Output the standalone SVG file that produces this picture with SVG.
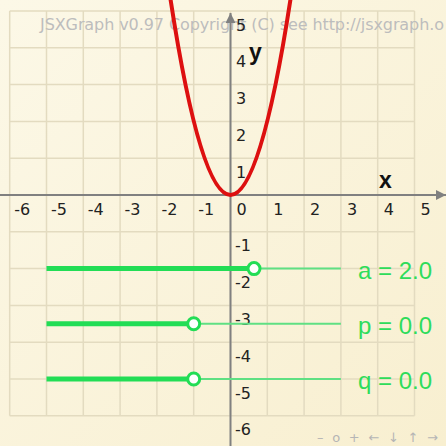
<svg xmlns="http://www.w3.org/2000/svg" width="446" height="446" viewBox="0 0 446 446">
<defs>
<linearGradient id="bg" x1="0" y1="0" x2="1" y2="1">
<stop offset="0" stop-color="#fcf8e7"/>
<stop offset="1" stop-color="#f8efd0"/>
</linearGradient>
<marker id="arr" viewBox="0 0 10 10" refX="10" refY="5" markerWidth="5" markerHeight="5" orient="auto" markerUnits="strokeWidth">
<path d="M0,0 L10,5 L0,10 z" fill="#808080"/>
</marker>
<style>
.grid{stroke:#e3dbc0;stroke-width:1.5;fill:none}
.axis{stroke:#808080;stroke-width:2;fill:none}
.tick{font-family:"DejaVu Sans",sans-serif;font-size:16px;fill:#222}
.axlab{font-family:"Liberation Sans",sans-serif;font-size:23px;font-weight:bold;fill:#111}
.curve{stroke:#dd1010;stroke-width:4;fill:none;stroke-linecap:round}
.track{stroke:#5fe083;stroke-width:2}
.fill{stroke:#22dd55;stroke-width:5}
.knob{fill:#ffffff;stroke:#22dd55;stroke-width:3}
.slab{font-family:"Liberation Sans",sans-serif;font-size:24px;fill:#2edc5a}
.wm{font-family:"DejaVu Sans",sans-serif;font-size:16px;fill:#bdbdbd}
.nav{font-family:"DejaVu Sans",sans-serif;font-size:13px;fill:#b5b5b5}
</style>
</defs>
<rect id="background" x="0" y="0" width="446" height="446" fill="url(#bg)"/>
<g id="grid" class="grid">
<path d="M9.7,11V415.8M46.5,11V415.8M83.3,11V415.8M120.1,11V415.8M156.9,11V415.8M193.7,11V415.8M230.5,11V415.8M267.3,11V415.8M304.1,11V415.8M340.9,11V415.8M377.7,11V415.8M414.5,11V415.8"/>
<path d="M9.7,11H414.5M9.7,47.8H414.5M9.7,84.6H414.5M9.7,121.4H414.5M9.7,158.2H414.5M9.7,195H414.5M9.7,231.8H414.5M9.7,268.6H414.5M9.7,305.4H414.5M9.7,342.2H414.5M9.7,379H414.5M9.7,415.8H414.5"/>
</g>
<text id="watermark" class="wm" x="40" y="30" textLength="404" lengthAdjust="spacing">JSXGraph v0.97 Copyright (C) see http://jsxgraph.o</text>
<g id="axes">
<line id="x-axis" class="axis" x1="0" y1="195" x2="446" y2="195" marker-end="url(#arr)"/>
<line id="y-axis" class="axis" x1="230.5" y1="446" x2="230.5" y2="13" marker-end="url(#arr)"/>
</g>
<g id="x-tick-labels" class="tick">
<text x="14.2" y="215">-6</text>
<text x="51" y="215">-5</text>
<text x="87.8" y="215">-4</text>
<text x="124.6" y="215">-3</text>
<text x="161.4" y="215">-2</text>
<text x="198.2" y="215">-1</text>
<text x="236.5" y="215">0</text>
<text x="273.3" y="215">1</text>
<text x="310.1" y="215">2</text>
<text x="346.9" y="215">3</text>
<text x="383.7" y="215">4</text>
<text x="420.5" y="215">5</text>
</g>
<g id="y-tick-labels" class="tick">
<text x="236" y="30.5">5</text>
<text x="236" y="67.3">4</text>
<text x="236" y="104.1">3</text>
<text x="236" y="140.9">2</text>
<text x="236" y="177.7">1</text>
<text x="235" y="251.3">-1</text>
<text x="235" y="288.1">-2</text>
<text x="235" y="324.9">-3</text>
<text x="235" y="361.7">-4</text>
<text x="235" y="398.5">-5</text>
<text x="235" y="435.3">-6</text>
</g>
<g id="axis-names">
<text class="axlab" x="379" y="188">x</text>
<text class="axlab" x="249" y="60">y</text>
</g>
<path id="parabola" class="curve" d="M169.8,-5.4 Q230.5,395.4 291.2,-5.4"/>
<g id="slider-a">
<line class="track" x1="254" y1="268.6" x2="340.9" y2="268.6"/>
<line class="fill" x1="46.5" y1="268.6" x2="254" y2="268.6"/>
<circle class="knob" cx="254" cy="268.6" r="6"/>
<text class="slab" x="358" y="278.6">a = 2.0</text>
</g>
<g id="slider-p">
<line class="track" x1="193.7" y1="323.8" x2="340.9" y2="323.8"/>
<line class="fill" x1="46.5" y1="323.8" x2="193.7" y2="323.8"/>
<circle class="knob" cx="193.7" cy="323.8" r="6"/>
<text class="slab" x="358" y="333.8">p = 0.0</text>
</g>
<g id="slider-q">
<line class="track" x1="193.7" y1="379" x2="340.9" y2="379"/>
<line class="fill" x1="46.5" y1="379" x2="193.7" y2="379"/>
<circle class="knob" cx="193.7" cy="379" r="6"/>
<text class="slab" x="358" y="389">q = 0.0</text>
</g>
<text id="navigation" class="nav" x="317" y="442" textLength="121" lengthAdjust="spacing">– o + ← ↓ ↑ →</text>
</svg>
